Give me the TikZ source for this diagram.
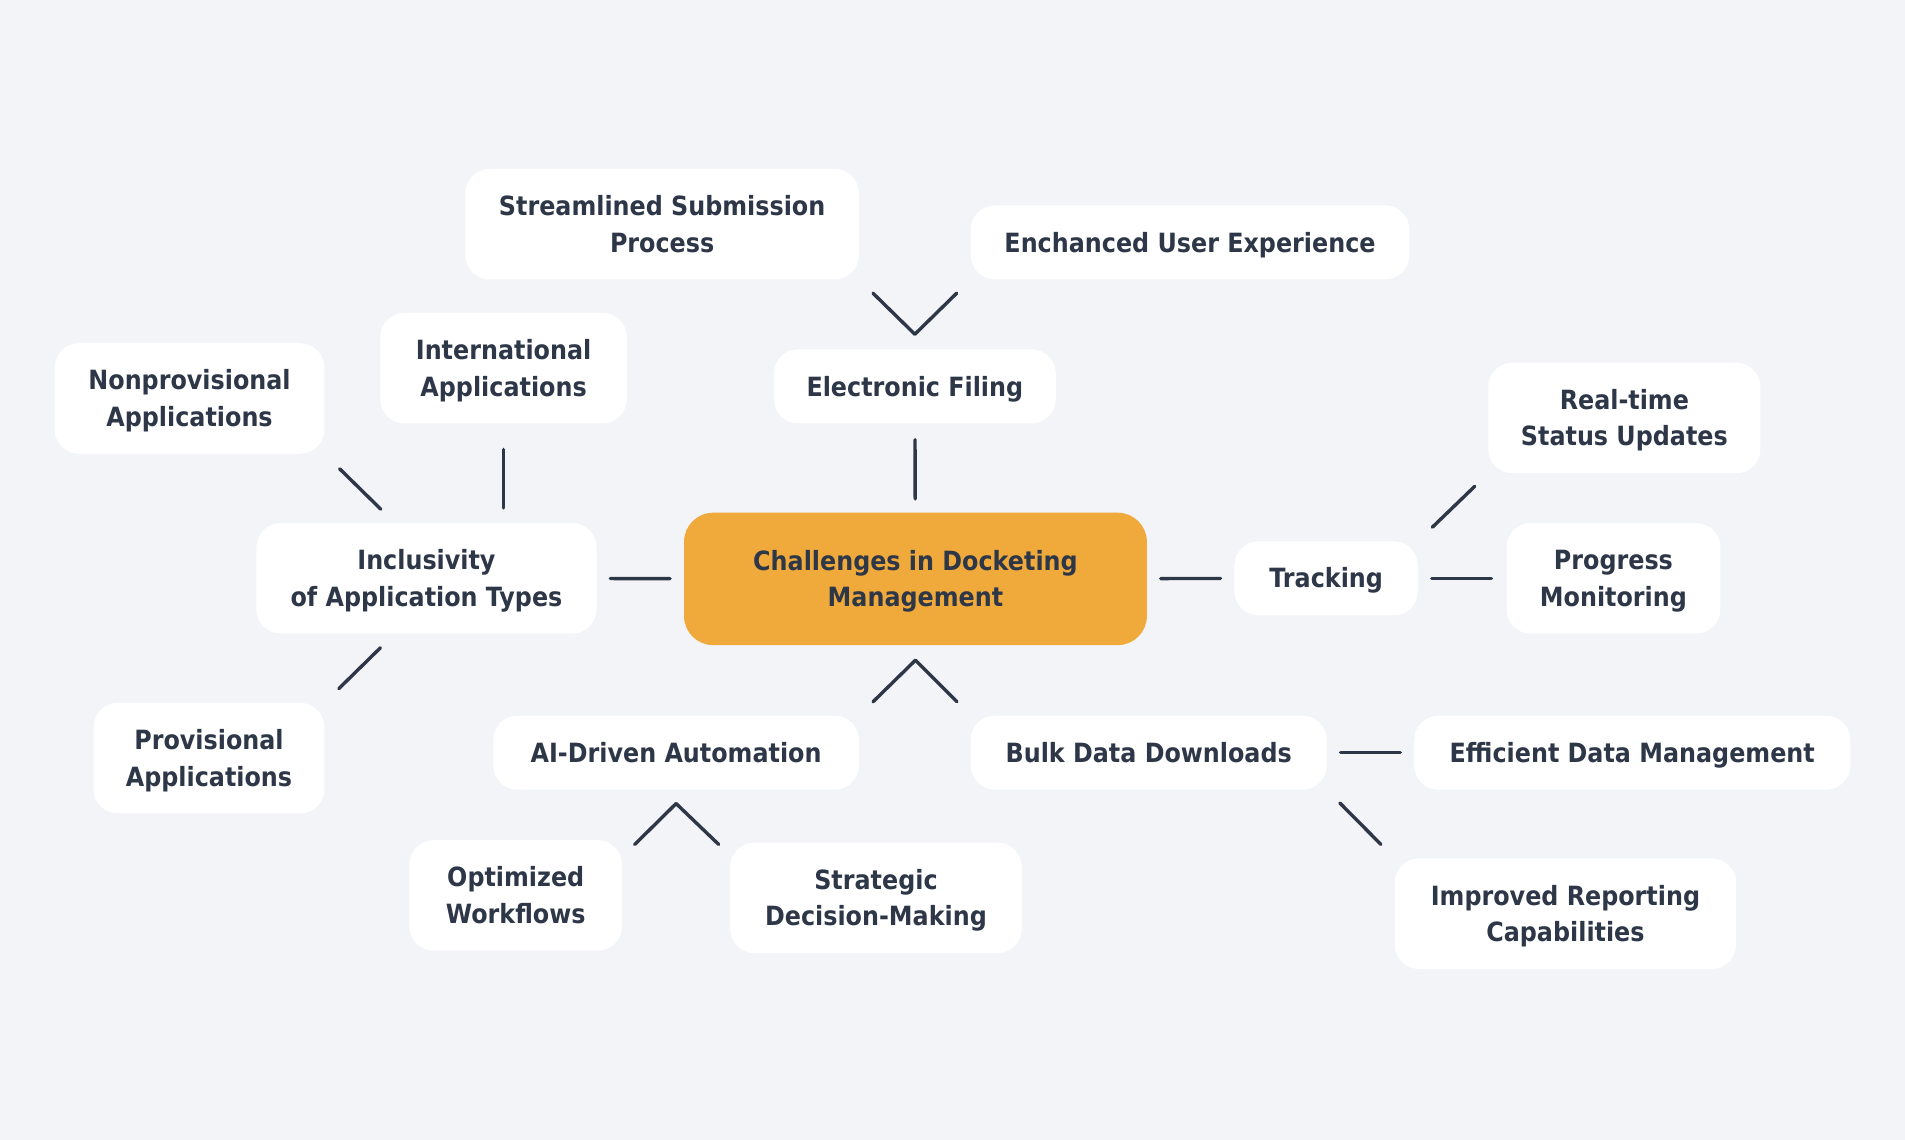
\documentclass[tikz,border=0pt]{standalone}
\usepackage{fontspec}
\setmainfont{DejaVu Sans}[FakeStretch=0.9]
\usetikzlibrary{positioning,calc}
\definecolor{bgc}{HTML}{F3F4F8}
\definecolor{ink}{HTML}{2D3748}
\definecolor{hub}{HTML}{F0AA3C}

\begin{document}
\begin{tikzpicture}[x=0.5pt,y=-0.5pt,
  box/.style={fill=white,rounded corners=10pt,inner sep=0pt,minimum height=30.5pt,align=center,text=ink,font={\bfseries\fontsize{10.9}{15}\selectfont},
    execute at begin node={\rule{0pt}{10.95pt}},execute at end node={\rule[-3pt]{0pt}{3pt}}},
  twolines/.style={execute at begin node={\rule{0pt}{25.95pt}}},
  tall/.style={box,twolines,minimum height=45.5pt},
  link/.style={draw=ink,line width=1.4pt,line cap=round,shorten <=5.5pt,shorten >=5.5pt}]

\path[fill=bgc] (0,0) rectangle (1568,938);

\node[box,twolines,fill=hub,rounded corners=12pt,minimum width=190.5pt,minimum height=54.5pt] (root) at (753.5,476.5) {Challenges in Docketing\\Management};

\node[box,minimum width=116pt] (efile) at (753,318) {Electronic Filing};
\node[tall,minimum width=162pt] (stream) at (545,184.5) {Streamlined Submission\\Process};
\node[box,minimum width=180.5pt] (enh) at (979.5,199.5) {Enchanced User Experience};

\node[tall,minimum width=140pt] (incl) at (351,476) {Inclusivity\\of Application Types};
\node[tall,minimum width=101.5pt] (intl) at (414.5,303) {International\\Applications};
\node[tall,minimum width=111pt] (nonprov) at (156,328) {Nonprovisional\\Applications};
\node[tall,minimum width=95pt] (prov) at (172,624) {Provisional\\Applications};

\node[box,minimum width=75.5pt] (track) at (1091.5,476) {Tracking};
\node[tall,minimum width=112pt] (realtime) at (1337,344) {Real-time\\Status Updates};
\node[tall,minimum width=88pt] (progress) at (1328,476) {Progress\\Monitoring};

\node[box,minimum width=150.5pt] (ai) at (556.5,619.5) {AI-Driven Automation};
\node[tall,minimum width=87.5pt] (opt) at (424.5,737) {Optimized\\Workflows};
\node[tall,minimum width=120pt] (strat) at (721,739) {Strategic\\Decision-Making};

\node[box,minimum width=146.5pt] (bulk) at (945.5,619.5) {Bulk Data Downloads};
\node[box,minimum width=179.5pt] (effic) at (1343.5,619.5) {Efficient Data Management};
\node[tall,minimum width=140.5pt] (improved) at (1288.5,752) {Improved Reporting\\Capabilities};

% straight links
\draw[link,shorten >=6.5pt] (root) -- (efile);
\draw[link] (root) -- (incl);
\draw[link] (root) -- (track);
\draw[link,shorten >=6pt] (track) -- (progress);
\draw[link] (bulk) -- (effic);
\draw[link,shorten <=10.5pt,shorten >=6pt] (intl) -- (intl |- incl.north);

% slanted links
\draw[link,shorten <=7.8pt,shorten >=8.5pt] ([xshift=57pt]incl.north west) -- (nonprov.south east);
\draw[link,shorten <=8pt,shorten >=8pt] ([xshift=57pt]incl.south west) -- (prov.north east);
\draw[link,shorten <=8pt,shorten >=7.5pt] (track.north east) -- (realtime.south west);
\draw[link,shorten <=7.4pt,shorten >=7.8pt] (bulk.south east) -- (improved.north west);

% forks
\coordinate (efork) at ([yshift=6pt]efile.north);
\draw[link,shorten <=0pt,shorten >=7.8pt] (efork) -- (stream.south east);
\draw[link,shorten <=0pt,shorten >=7.8pt] (efork) -- (enh.south west);

\coordinate (rfork) at ([yshift=-6pt]root.south);
\draw[link,shorten <=0pt,shorten >=7.8pt] (rfork) -- (ai.north east);
\draw[link,shorten <=0pt,shorten >=7.8pt] (rfork) -- (bulk.north west);

\coordinate (afork) at ([yshift=-5.5pt]ai.south);
\draw[link,shorten <=0pt,shorten >=0pt] (afork) -- ([shift={(5pt,-2pt)}]opt.north east);
\draw[link,shorten <=0pt,shorten >=0pt] (afork) -- ([shift={(-4.5pt,-1pt)}]strat.north west);

\end{tikzpicture}
\end{document}
